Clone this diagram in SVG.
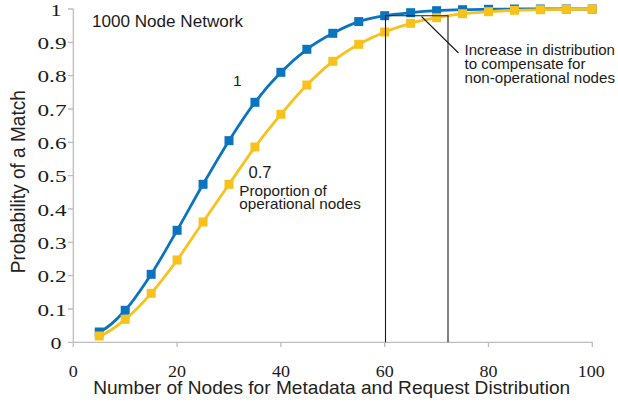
<svg xmlns="http://www.w3.org/2000/svg" xmlns:xlink="http://www.w3.org/1999/xlink" width="618" height="411" viewBox="0 0 618 411">
  <style>
    .axis { stroke: #bdbdbd; stroke-width: 1.3; fill: none; }
    .tick { font-family: "Liberation Serif", "Times New Roman", serif; font-size: 17px; fill: #1a1a1a; }
    .title { font-family: "Liberation Sans", Arial, sans-serif; fill: #222; }
    .note { font-family: "Liberation Sans", Arial, sans-serif; font-size: 15px; fill: #1a1a1a; }
    .guide { stroke: #1a1a1a; stroke-width: 1.1; fill: none; }
    .curve { fill: none; stroke-width: 2.8; stroke-linejoin: round; }
    .full { stroke: #0b74bf; fill: #0b74bf; }
    .part { stroke: #f8c11c; fill: #f8c11c; }
  </style>
  <defs>
    <rect id="mk" x="-4.5" y="-4.5" width="9" height="9" stroke="none"/>
  </defs>
  <rect width="618" height="411" fill="#fff"/>

  <!-- axes -->
  <g id="axes">
    <path class="axis" d="M73.3,9 V342.3 H592.3"/>
    <path class="axis" d="M68,9 H73.3 M68,42.3 H73.3 M68,75.6 H73.3 M68,109 H73.3 M68,142.3 H73.3 M68,175.6 H73.3 M68,209 H73.3 M68,242.3 H73.3 M68,275.6 H73.3 M68,309 H73.3 M68,342.3 H73.3"/>
    <path class="axis" d="M73.3,342.3 V347 M177.1,342.3 V347 M280.9,342.3 V347 M384.7,342.3 V347 M488.5,342.3 V347 M592.3,342.3 V347"/>
  </g>

  <!-- axis values -->
  <g id="y-values" class="tick" text-anchor="end">
    <text x="61.5" y="15.5" textLength="11" lengthAdjust="spacingAndGlyphs">1</text>
    <text x="66.5" y="48.8" textLength="29" lengthAdjust="spacingAndGlyphs">0.9</text>
    <text x="66.5" y="82.1" textLength="29" lengthAdjust="spacingAndGlyphs">0.8</text>
    <text x="66.5" y="115.5" textLength="29" lengthAdjust="spacingAndGlyphs">0.7</text>
    <text x="66.5" y="148.8" textLength="29" lengthAdjust="spacingAndGlyphs">0.6</text>
    <text x="66.5" y="182.1" textLength="29" lengthAdjust="spacingAndGlyphs">0.5</text>
    <text x="66.5" y="215.5" textLength="29" lengthAdjust="spacingAndGlyphs">0.4</text>
    <text x="66.5" y="248.8" textLength="29" lengthAdjust="spacingAndGlyphs">0.3</text>
    <text x="66.5" y="282.1" textLength="29" lengthAdjust="spacingAndGlyphs">0.2</text>
    <text x="66.5" y="315.5" textLength="29" lengthAdjust="spacingAndGlyphs">0.1</text>
    <text x="61.5" y="348.8" textLength="11" lengthAdjust="spacingAndGlyphs">0</text>
  </g>
  <g id="x-values" class="tick" text-anchor="middle">
    <text x="73.3" y="376.7" textLength="9" lengthAdjust="spacingAndGlyphs">0</text>
    <text x="177.1" y="376.7" textLength="18" lengthAdjust="spacingAndGlyphs">20</text>
    <text x="280.9" y="376.7" textLength="18" lengthAdjust="spacingAndGlyphs">40</text>
    <text x="384.7" y="376.7" textLength="18" lengthAdjust="spacingAndGlyphs">60</text>
    <text x="488.5" y="376.7" textLength="18" lengthAdjust="spacingAndGlyphs">80</text>
    <text x="591.3" y="376.7" textLength="27" lengthAdjust="spacingAndGlyphs">100</text>
  </g>

  <!-- axis titles -->
  <g id="axis-titles" class="title" text-anchor="middle">
    <text x="331.7" y="393.5" font-size="18.5" textLength="477" lengthAdjust="spacingAndGlyphs">Number of Nodes for Metadata and Request Distribution</text>
    <text transform="translate(25,181.7) rotate(-90)" x="0" y="0" font-size="20" textLength="183" lengthAdjust="spacingAndGlyphs">Probability of a Match</text>
  </g>

  <!-- proportion of operational nodes = 1 -->
  <g id="series-full" class="full">
    <path class="curve full" fill="none" d="M99.25,332 C107.9,328.38 116.55,319.92 125.2,310.3 C133.85,300.68 142.5,287.63 151.15,274.3 C159.8,260.97 168.45,245.3 177.1,230.3 C185.75,215.3 194.4,199.24 203.05,184.3 C211.7,169.36 220.35,154.32 229,140.65 C237.65,126.98 246.3,113.69 254.95,102.3 C263.6,90.91 272.25,81.13 280.9,72.3 C289.55,63.47 298.2,55.8 306.85,49.3 C315.5,42.8 324.15,37.92 332.8,33.3 C341.45,28.68 350.1,24.53 358.75,21.6 C367.4,18.67 376.05,17.18 384.7,15.7 C393.35,14.22 402,13.53 410.65,12.7 C419.3,11.87 427.95,11.2 436.6,10.7 C445.25,10.2 453.9,9.93 462.55,9.7 C471.2,9.47 479.85,9.42 488.5,9.3 C497.15,9.18 505.8,9.05 514.45,9 L592.3,9" style="fill:none"/>
    <use xlink:href="#mk" x="99.25" y="332"/>
    <use xlink:href="#mk" x="125.2" y="310.3"/>
    <use xlink:href="#mk" x="151.15" y="274.3"/>
    <use xlink:href="#mk" x="177.1" y="230.3"/>
    <use xlink:href="#mk" x="203.05" y="184.3"/>
    <use xlink:href="#mk" x="229" y="140.65"/>
    <use xlink:href="#mk" x="254.95" y="102.3"/>
    <use xlink:href="#mk" x="280.9" y="72.3"/>
    <use xlink:href="#mk" x="306.85" y="49.3"/>
    <use xlink:href="#mk" x="332.8" y="33.3"/>
    <use xlink:href="#mk" x="358.75" y="21.6"/>
    <use xlink:href="#mk" x="384.7" y="15.7"/>
    <use xlink:href="#mk" x="410.65" y="12.7"/>
    <use xlink:href="#mk" x="436.6" y="10.7"/>
    <use xlink:href="#mk" x="462.55" y="9.7"/>
    <use xlink:href="#mk" x="488.5" y="9.3"/>
    <use xlink:href="#mk" x="514.45" y="9"/>
    <use xlink:href="#mk" x="540.4" y="9"/>
    <use xlink:href="#mk" x="566.35" y="9"/>
    <use xlink:href="#mk" x="592.3" y="9"/>
  </g>

  <!-- proportion of operational nodes = 0.7 -->
  <g id="series-part" class="part">
    <path class="curve part" d="M99.25,336 C107.9,333.22 116.55,326.42 125.2,319.3 C133.85,312.18 142.5,303.18 151.15,293.3 C159.8,283.42 168.45,271.88 177.1,260 C185.75,248.12 194.4,234.62 203.05,222 C211.7,209.38 220.35,196.8 229,184.3 C237.65,171.8 246.3,158.67 254.95,147 C263.6,135.33 272.25,124.63 280.9,114.3 C289.55,103.97 298.2,93.83 306.85,85 C315.5,76.17 324.15,68.08 332.8,61.3 C341.45,54.52 350.1,49.18 358.75,44.3 C367.4,39.42 376.05,35.5 384.7,32 C393.35,28.5 402,25.68 410.65,23.3 C419.3,20.92 427.95,19.3 436.6,17.7 C445.25,16.1 453.9,14.7 462.55,13.7 C471.2,12.7 479.85,12.27 488.5,11.7 C497.15,11.13 505.8,10.63 514.45,10.3 C523.1,9.97 531.75,9.87 540.4,9.7 C549.05,9.53 557.7,9.42 566.35,9.3 C575,9.18 583.65,9.05 592.3,9" style="fill:none"/>
    <use xlink:href="#mk" x="99.25" y="336"/>
    <use xlink:href="#mk" x="125.2" y="319.3"/>
    <use xlink:href="#mk" x="151.15" y="293.3"/>
    <use xlink:href="#mk" x="177.1" y="260"/>
    <use xlink:href="#mk" x="203.05" y="222"/>
    <use xlink:href="#mk" x="229" y="184.3"/>
    <use xlink:href="#mk" x="254.95" y="147"/>
    <use xlink:href="#mk" x="280.9" y="114.3"/>
    <use xlink:href="#mk" x="306.85" y="85"/>
    <use xlink:href="#mk" x="332.8" y="61.3"/>
    <use xlink:href="#mk" x="358.75" y="44.3"/>
    <use xlink:href="#mk" x="384.7" y="32"/>
    <use xlink:href="#mk" x="410.65" y="23.3"/>
    <use xlink:href="#mk" x="436.6" y="17.7"/>
    <use xlink:href="#mk" x="462.55" y="13.7"/>
    <use xlink:href="#mk" x="488.5" y="11.7"/>
    <use xlink:href="#mk" x="514.45" y="10.3"/>
    <use xlink:href="#mk" x="540.4" y="9.7"/>
    <use xlink:href="#mk" x="566.35" y="9.3"/>
    <use xlink:href="#mk" x="592.3" y="9"/>
  </g>

  <!-- bracket marking the extra distribution, with its leader -->
  <g id="connectors">
    <path class="guide" d="M385.5,342.3 V15.7 H448 V342.3"/>
    <path class="guide" d="M421.5,16.5 L458.5,53"/>
  </g>

  <!-- chart notes -->
  <g id="notes" class="note">
    <text x="92" y="26.5" font-size="16" textLength="151" lengthAdjust="spacingAndGlyphs">1000 Node Network</text>
    <text x="233" y="86" font-size="15.5">1</text>
    <text x="248.5" y="178.3" font-size="16" textLength="23" lengthAdjust="spacingAndGlyphs">0.7</text>
    <text x="239.3" y="196" textLength="87.5" lengthAdjust="spacingAndGlyphs">Proportion of</text>
    <text x="239.3" y="209.3" textLength="121.5" lengthAdjust="spacingAndGlyphs">operational nodes</text>
    <text x="464.5" y="55" textLength="150.5" lengthAdjust="spacingAndGlyphs">Increase in distribution</text>
    <text x="464.5" y="69.3" textLength="121" lengthAdjust="spacingAndGlyphs">to compensate for</text>
    <text x="464.5" y="83.3" textLength="150.5" lengthAdjust="spacingAndGlyphs">non-operational nodes</text>
  </g>
</svg>
